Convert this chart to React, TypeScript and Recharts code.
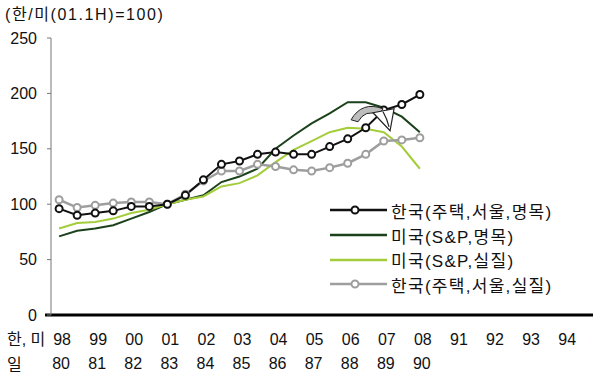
import React from 'react';
import { LineChart, Line, XAxis, YAxis, ReferenceLine, ReferenceDot } from 'recharts';

// half-year points, 98.1H .. 08.1H
const halfYears = ['98.1H','98.2H','99.1H','99.2H','00.1H','00.2H','01.1H','01.2H','02.1H','02.2H','03.1H','03.2H','04.1H','04.2H','05.1H','05.2H','06.1H','06.2H','07.1H','07.2H','08.1H'];
const koreaNominal = [96, 90, 92, 94, 98, 98, 100, 108, 122, 136, 139, 145, 147, 145, 145, 152, 159, 169, 185, 190, 199];
const usNominal = [71, 76, 78, 81, 87, 93, 100, 104, 108, 120, 125, 132, 150, 162, 173, 182, 192, 192, 187, 179, 165];
const usReal = [78, 83, 84, 87, 92, 95, 100, 104, 107, 116, 119, 126, 138, 149, 157, 165, 169, 168, 165, 152, 132];
const koreaReal = [104, 97, 99, 101, 102, 102, 100, 109, 121, 130, 130, 136, 134, 131, 130, 133, 137, 145, 157, 158, 160];

const koreaUsYears = ['98','99','00','01','02','03','04','05','06','07','08','91','92','93','94'];
const japanYears = ['80','81','82','83','84','85','86','87','88','89','90'];
const yTicks = [0, 50, 100, 150, 200, 250];
const xTicks = koreaUsYears.map((_, i) => i * 2);

const seriesNames = ['한국(주택,서울,명목)', '미국(S&P,명목)', '미국(S&P,실질)', '한국(주택,서울,실질)'];
const arrowAnchor = { x: 17.35, y: 178 };

const FONT = "'Liberation Sans', 'Noto Sans CJK KR', Arial, sans-serif";
const C_KN = '#111111';
const C_UN = '#1c421c';
const C_UR = '#a3cd3a';
const C_KR = '#9e9e9e';

const data = halfYears.map((h, i) => ({
  x: i,
  label: h,
  kn: koreaNominal[i],
  un: usNominal[i],
  ur: usReal[i],
  kr: koreaReal[i],
}));

const XTick = (props: any) => {
  const { x, payload, index } = props;
  const i = Math.round(payload.value / 2);
  return (
    <g fontFamily={FONT} fontSize={16} fill="#111">
      <text x={x + 3} y={339} textAnchor="middle" dominantBaseline="central">{koreaUsYears[i]}</text>
      {japanYears[i] && (
        <text x={x + 2} y={363} textAnchor="middle" dominantBaseline="central">{japanYears[i]}</text>
      )}
      {index === 0 && (
        <>
          <text x={7} y={339} textAnchor="start" dominantBaseline="central">한, 미</text>
          <text x={7} y={364} textAnchor="start" dominantBaseline="central">일</text>
        </>
      )}
    </g>
  );
};

const Arrow = (props: any) => {
  const { cx, cy } = props;
  if (cx == null || cy == null) return null;
  return (
    <g transform={`translate(${cx},${cy})`}>
      <path d="M -21 2 Q -10 -17 11 -9 L 7 -3 Q -7 -9 -14 4 Z" fill="#bdbdbd" stroke="#222" strokeWidth={1} />
      <path d="M 1 -5 L 22 -9 L 18 13 Z" fill="#fff" stroke="#222" strokeWidth={1.2} />
      <path d="M 11 -6 Q 15 1 17 9" fill="none" stroke="#222" strokeWidth={1.2} />
    </g>
  );
};

const LegendBlock = () => {
  const colors = [C_KN, C_UN, C_UR, C_KR];
  const markers = [true, false, false, true];
  return (
    <div style={{ position: 'absolute', left: 330, top: 198, fontFamily: FONT, fontSize: 17, color: '#111' }}>
      {seriesNames.map((n, i) => (
        <div key={n} style={{ display: 'flex', alignItems: 'center', height: 24.7 }}>
          <svg width={61} height={14} style={{ display: 'block' }}>
            <line x1={0} y1={7} x2={57} y2={7} stroke={colors[i]} strokeWidth={2.5} />
            {markers[i] && <circle cx={25} cy={7} r={3.5} fill="#fff" stroke={colors[i]} strokeWidth={2} />}
          </svg>
          <span style={{ letterSpacing: 1.3, whiteSpace: 'nowrap' }}>{n}</span>
        </div>
      ))}
    </div>
  );
};

export default function App() {
  return (
    <div style={{ position: 'absolute', left: 0, top: 0, width: 600, height: 381, background: '#fff' }}>
      <div style={{ position: 'absolute', left: 5, top: 5, fontFamily: FONT, fontSize: 16, letterSpacing: 1.6, color: '#111', lineHeight: '20px', whiteSpace: 'nowrap' }}>
        (한/미(01.1H)=100)
      </div>
      <LineChart width={600} height={381} data={data} margin={{ top: 38, right: 7, bottom: 0, left: 0 }}>
        <XAxis
          dataKey="x"
          type="number"
          domain={[-0.45, 29.6]}
          ticks={xTicks}
          allowDataOverflow
          axisLine={false}
          tickLine={false}
          height={66}
          tick={<XTick />}
          interval={0}
        />
        <YAxis
          type="number"
          domain={[0, 250]}
          ticks={yTicks}
          width={51}
          tickSize={4}
          tickMargin={10}
          axisLine={{ stroke: '#777', strokeWidth: 1 }}
          tickLine={{ stroke: '#777' }}
          tick={{ fill: '#111', fontSize: 16, fontFamily: FONT }}
        />
        <ReferenceLine
          segment={[{ x: -0.78, y: 0 }, { x: 29.6, y: 0 }]}
          stroke="#000"
          strokeWidth={3}
          ifOverflow="visible"
        />
        <Line dataKey="un" stroke={C_UN} strokeWidth={2} dot={false} isAnimationActive={false} />
        <Line dataKey="ur" stroke={C_UR} strokeWidth={2} dot={false} isAnimationActive={false} />
        <Line dataKey="kr" stroke={C_KR} strokeWidth={2.5} dot={{ r: 3.5, fill: '#fff', stroke: C_KR, strokeWidth: 2 }} isAnimationActive={false} />
        <Line dataKey="kn" stroke={C_KN} strokeWidth={2} dot={{ r: 3.5, fill: '#fff', stroke: C_KN, strokeWidth: 2 }} isAnimationActive={false} />
        <ReferenceDot x={arrowAnchor.x} y={arrowAnchor.y} shape={<Arrow />} ifOverflow="visible" />
      </LineChart>
      <LegendBlock />
    </div>
  );
}
